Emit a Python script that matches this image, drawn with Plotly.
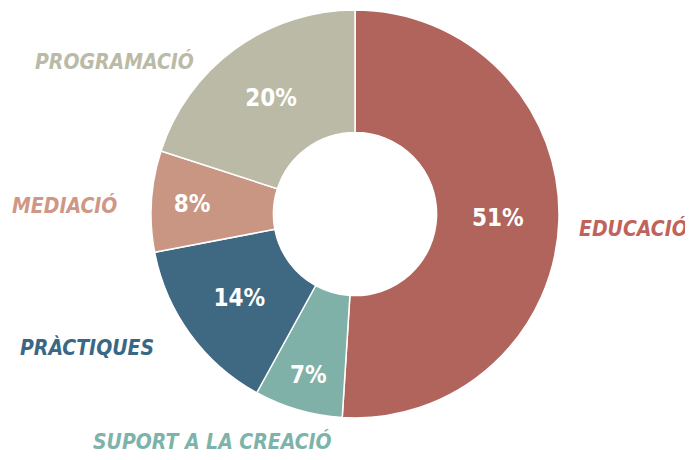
import plotly.graph_objects as go

categories = ["EDUCACIÓ", "SUPORT A LA CREACIÓ", "PRÀCTIQUES", "MEDIACIÓ", "PROGRAMACIÓ"]
values = [51, 7, 14, 8, 20]
slice_colors = ["#B0645C", "#7FB1A8", "#3F6882", "#C99684", "#BBBAA6"]
label_colors = ["#C0635C", "#7DB3AA", "#3A6784", "#CF9785", "#BBBAA6"]
# label anchor positions (paper coords)
label_x = [0.913, 0.298, 0.115, 0.082, 0.156]
label_y = [0.513, 0.040, 0.250, 0.564, 0.881]

font_family = "DejaVu Sans Condensed, Roboto, sans-serif"

fig = go.Figure(go.Pie(
    labels=categories,
    values=values,
    sort=False,
    direction="clockwise",
    rotation=0,
    hole=0.40,
    marker=dict(colors=slice_colors, line=dict(color="white", width=1.5)),
    texttemplate="%{value}%",
    textposition="inside",
    insidetextorientation="horizontal",
    textfont=dict(family=font_family, size=24, color="white", weight="bold"),
    domain=dict(x=[0.2088, 0.8044], y=[0.0929, 0.9956]),
    showlegend=False,
    hoverinfo="label+percent",
))

for name, c, x, y in zip(categories, label_colors, label_x, label_y):
    fig.add_annotation(
        text=name, x=x, y=y, xref="paper", yref="paper",
        showarrow=False, xanchor="center", yanchor="middle",
        font=dict(family=font_family, size=21, color=c, weight="bold", style="italic"),
    )

fig.update_layout(
    width=685, height=452,
    margin=dict(l=0, r=0, t=0, b=0),
    paper_bgcolor="white", plot_bgcolor="white",
)
fig.write_html("out.html")
